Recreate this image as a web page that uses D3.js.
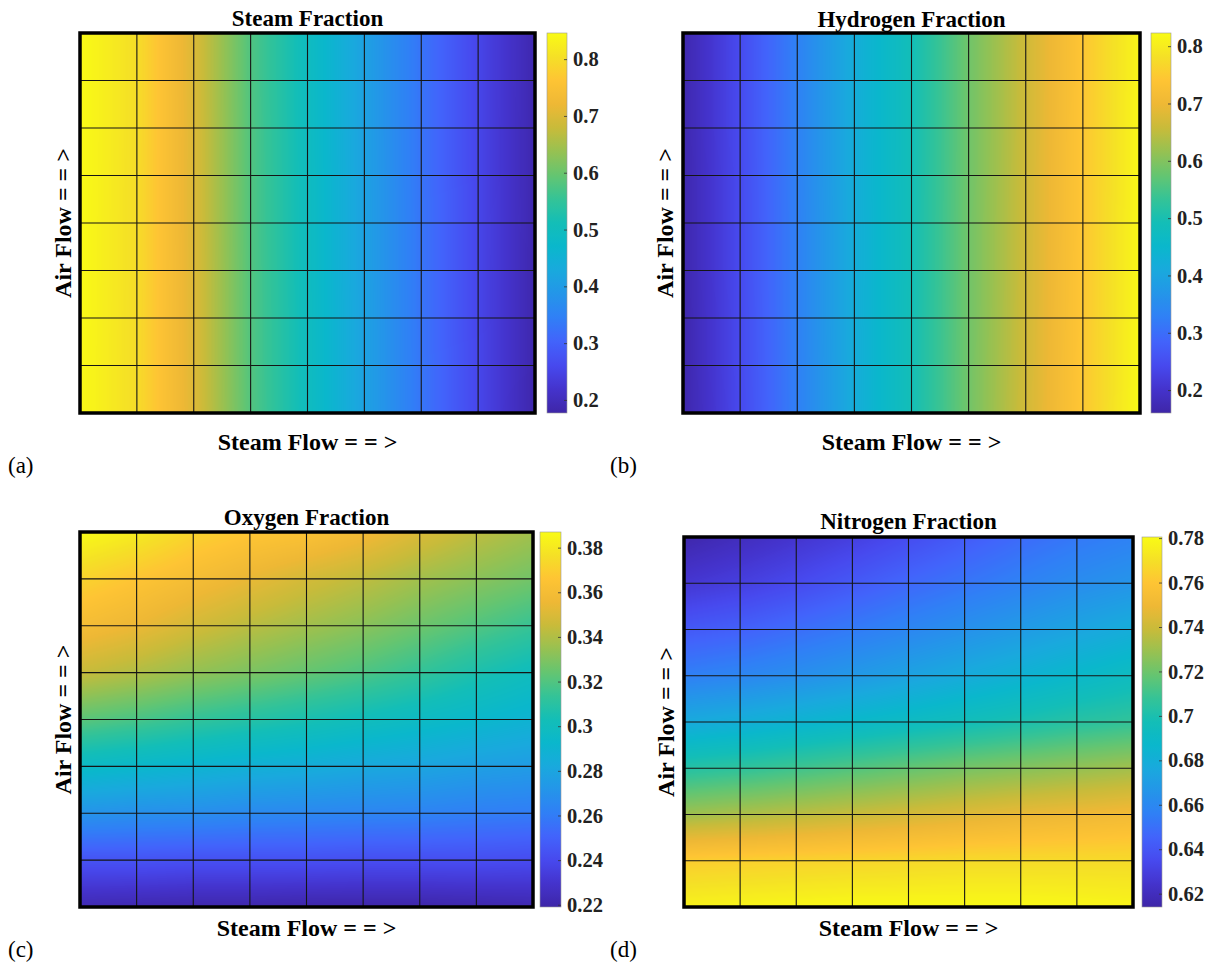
<!DOCTYPE html>
<html>
<head>
<meta charset="utf-8">
<script src="https://cdn.jsdelivr.net/npm/d3@7"></script>
<style>
  body { margin: 0; background: #ffffff; }
  svg { display: block; }
</style>
</head>
<body>
<svg id="chart" width="1211" height="965"></svg>
<script>
// ---------------- DATA (vertex values of 9x9 grid, rows listed top -> bottom, columns left -> right) ----------------
const steamFraction = [
  [0.846, 0.800, 0.700, 0.578, 0.495, 0.411, 0.328, 0.254, 0.184],
  [0.846, 0.800, 0.700, 0.578, 0.495, 0.411, 0.328, 0.254, 0.184],
  [0.846, 0.800, 0.701, 0.579, 0.495, 0.411, 0.328, 0.254, 0.183],
  [0.846, 0.799, 0.701, 0.579, 0.496, 0.412, 0.328, 0.254, 0.183],
  [0.845, 0.799, 0.701, 0.579, 0.496, 0.412, 0.329, 0.255, 0.183],
  [0.845, 0.799, 0.702, 0.580, 0.496, 0.412, 0.329, 0.255, 0.182],
  [0.845, 0.798, 0.702, 0.580, 0.497, 0.413, 0.329, 0.255, 0.182],
  [0.844, 0.798, 0.702, 0.580, 0.497, 0.413, 0.330, 0.256, 0.181],
  [0.844, 0.798, 0.703, 0.581, 0.497, 0.413, 0.330, 0.256, 0.180]
];
const hydrogenFraction = [
  [0.166, 0.246, 0.330, 0.420, 0.490, 0.584, 0.664, 0.743, 0.816],
  [0.166, 0.246, 0.330, 0.420, 0.490, 0.584, 0.664, 0.743, 0.816],
  [0.166, 0.246, 0.330, 0.420, 0.490, 0.584, 0.664, 0.744, 0.817],
  [0.165, 0.245, 0.330, 0.420, 0.491, 0.584, 0.665, 0.744, 0.817],
  [0.165, 0.245, 0.329, 0.419, 0.491, 0.585, 0.665, 0.744, 0.818],
  [0.165, 0.245, 0.329, 0.419, 0.491, 0.585, 0.665, 0.745, 0.818],
  [0.164, 0.244, 0.329, 0.419, 0.492, 0.585, 0.666, 0.745, 0.819],
  [0.164, 0.244, 0.328, 0.418, 0.492, 0.586, 0.666, 0.746, 0.820],
  [0.163, 0.243, 0.328, 0.418, 0.492, 0.586, 0.667, 0.746, 0.821]
];
const oxygenFraction = [
  [0.387, 0.381, 0.372, 0.367, 0.364, 0.358, 0.350, 0.343, 0.337],
  [0.372, 0.366, 0.360, 0.354, 0.348, 0.343, 0.337, 0.332, 0.327],
  [0.360, 0.355, 0.348, 0.342, 0.337, 0.332, 0.326, 0.320, 0.314],
  [0.345, 0.340, 0.334, 0.329, 0.324, 0.319, 0.313, 0.306, 0.300],
  [0.322, 0.318, 0.313, 0.309, 0.305, 0.301, 0.297, 0.293, 0.289],
  [0.296, 0.293, 0.290, 0.287, 0.285, 0.282, 0.280, 0.277, 0.275],
  [0.271, 0.269, 0.268, 0.266, 0.265, 0.264, 0.263, 0.261, 0.260],
  [0.244, 0.244, 0.243, 0.243, 0.243, 0.242, 0.242, 0.242, 0.241],
  [0.222, 0.221, 0.220, 0.220, 0.219, 0.219, 0.219, 0.220, 0.221]
];
const nitrogenFraction = [
  [0.615, 0.620, 0.625, 0.630, 0.636, 0.642, 0.648, 0.653, 0.657],
  [0.626, 0.630, 0.635, 0.641, 0.647, 0.652, 0.657, 0.662, 0.666],
  [0.641, 0.644, 0.649, 0.654, 0.659, 0.664, 0.669, 0.674, 0.679],
  [0.656, 0.659, 0.663, 0.668, 0.673, 0.678, 0.683, 0.688, 0.693],
  [0.677, 0.680, 0.684, 0.688, 0.692, 0.696, 0.700, 0.704, 0.707],
  [0.703, 0.706, 0.710, 0.714, 0.718, 0.722, 0.725, 0.728, 0.731],
  [0.730, 0.733, 0.736, 0.739, 0.742, 0.745, 0.748, 0.750, 0.752],
  [0.763, 0.764, 0.765, 0.766, 0.767, 0.768, 0.768, 0.768, 0.768],
  [0.777, 0.778, 0.779, 0.780, 0.780, 0.780, 0.780, 0.779, 0.778]
];

// colour limits of each colour bar
const steamRange = [0.177, 0.846];
const hydrogenRange = [0.160, 0.823];
const oxygenRange = [0.219, 0.387];
const nitrogenRange = [0.614, 0.7805];

// colour bar tick labels
const steamTicks = [0.2, 0.3, 0.4, 0.5, 0.6, 0.7, 0.8];
const hydrogenTicks = [0.2, 0.3, 0.4, 0.5, 0.6, 0.7, 0.8];
const oxygenTicks = [0.22, 0.24, 0.26, 0.28, 0.30, 0.32, 0.34, 0.36, 0.38];
const nitrogenTicks = [0.62, 0.64, 0.66, 0.68, 0.70, 0.72, 0.74, 0.76, 0.78];

const titles = ["Steam Fraction", "Hydrogen Fraction", "Oxygen Fraction", "Nitrogen Fraction"];
const panelLetters = ["(a)", "(b)", "(c)", "(d)"];
const xLabel = "Steam Flow = = >";
const yLabel = "Air Flow = = >";

// parula-like colour map
const parulaColors = [
  "#3e26a8", "#4433cc", "#4749ee", "#4263fb", "#307ff6", "#2495e9", "#19a9dd",
  "#0ab7cc", "#13beb7", "#34c397", "#64c571", "#96c152", "#c8bb3a", "#eeb835",
  "#fec434", "#f5e026", "#f9fb15"
];

// ---------------- LAYOUT ----------------
const FONT = "'Liberation Serif', 'Times New Roman', serif";
const layout = [
  { plot: [80, 535, 33, 413], cbar: [547, 567], titleY: 26, xlabelY: 450, ylabelX: 71, letter: [8, 473] },
  { plot: [683, 1140, 33, 413], cbar: [1151, 1171], titleY: 27, xlabelY: 450, ylabelX: 673, letter: [610, 473] },
  { plot: [80, 533, 532, 907], cbar: [540, 561], titleY: 525, xlabelY: 936, ylabelX: 71, letter: [8, 957] },
  { plot: [684, 1133, 537, 907], cbar: [1142, 1162], titleY: 529, xlabelY: 936, ylabelX: 674, letter: [610, 957] }
];
const datasets = [steamFraction, hydrogenFraction, oxygenFraction, nitrogenFraction];
const ranges = [steamRange, hydrogenRange, oxygenRange, nitrogenRange];
const tickSets = [steamTicks, hydrogenTicks, oxygenTicks, nitrogenTicks];

const svg = d3.select("#chart");
const defs = svg.append("defs");
const cmap = d3.piecewise(d3.interpolateRgb, parulaColors);

datasets.forEach((data, i) => {
  const L = layout[i];
  const [x0, x1, y0, y1] = L.plot;
  const nCols = data[0].length - 1, nRows = data.length - 1;
  const xs = d3.scaleLinear().domain([0, nCols]).range([x0, x1]);
  const ys = d3.scaleLinear().domain([0, nRows]).range([y0, y1]);
  const color = d3.scaleSequential(cmap).domain(ranges[i]).clamp(true);

  // colour lookup table
  const N = 512;
  const lut = d3.range(N).map(k => d3.rgb(color(ranges[i][0] + (ranges[i][1] - ranges[i][0]) * k / (N - 1))));

  // interpolated (shading interp) raster
  const W = Math.round(x1 - x0), H = Math.round(y1 - y0);
  const cv = document.createElement("canvas");
  cv.width = W; cv.height = H;
  const ctx = cv.getContext("2d");
  const img = ctx.createImageData(W, H);
  for (let py = 0; py < H; py++) {
    const gy = ys.invert(y0 + py + 0.5);
    const r = Math.max(0, Math.min(nRows - 1, Math.floor(gy)));
    const fy = gy - r;
    for (let px = 0; px < W; px++) {
      const gx = xs.invert(x0 + px + 0.5);
      const c = Math.max(0, Math.min(nCols - 1, Math.floor(gx)));
      const fx = gx - c;
      const v = (1 - fy) * ((1 - fx) * data[r][c] + fx * data[r][c + 1]) +
                fy * ((1 - fx) * data[r + 1][c] + fx * data[r + 1][c + 1]);
      let k = Math.round((v - ranges[i][0]) / (ranges[i][1] - ranges[i][0]) * (N - 1));
      k = Math.max(0, Math.min(N - 1, k));
      const col = lut[k];
      const o = (py * W + px) * 4;
      img.data[o] = col.r; img.data[o + 1] = col.g; img.data[o + 2] = col.b; img.data[o + 3] = 255;
    }
  }
  ctx.putImageData(img, 0, 0);

  const g = svg.append("g");
  g.append("image")
    .attr("href", cv.toDataURL())
    .attr("x", x0).attr("y", y0)
    .attr("width", x1 - x0).attr("height", y1 - y0)
    .attr("preserveAspectRatio", "none");

  // grid (facet) lines
  g.selectAll("line.v").data(d3.range(1, nCols)).join("line")
    .attr("x1", d => xs(d)).attr("x2", d => xs(d))
    .attr("y1", y0).attr("y2", y1)
    .attr("stroke", "#151515").attr("stroke-width", 1.1);
  g.selectAll("line.h").data(d3.range(1, nRows)).join("line")
    .attr("x1", x0).attr("x2", x1)
    .attr("y1", d => ys(d)).attr("y2", d => ys(d))
    .attr("stroke", "#151515").attr("stroke-width", 1.1);

  // thick box
  g.append("rect")
    .attr("x", x0).attr("y", y0).attr("width", x1 - x0).attr("height", y1 - y0)
    .attr("fill", "none").attr("stroke", "#000").attr("stroke-width", 3.5);

  // title
  g.append("text")
    .attr("x", (x0 + x1) / 2).attr("y", L.titleY)
    .attr("text-anchor", "middle")
    .attr("font-family", FONT).attr("font-weight", "bold").attr("font-size", 23)
    .text(titles[i]);

  // x label
  g.append("text")
    .attr("x", (x0 + x1) / 2).attr("y", L.xlabelY)
    .attr("text-anchor", "middle")
    .attr("font-family", FONT).attr("font-weight", "bold").attr("font-size", 24)
    .text(xLabel);

  // y label
  g.append("text")
    .attr("transform", `translate(${L.ylabelX},${(y0 + y1) / 2}) rotate(-90)`)
    .attr("text-anchor", "middle")
    .attr("font-family", FONT).attr("font-weight", "bold").attr("font-size", 24)
    .text(yLabel);

  // panel letter
  g.append("text")
    .attr("x", L.letter[0]).attr("y", L.letter[1])
    .attr("font-family", FONT).attr("font-size", 23)
    .text(panelLetters[i]);

  // colour bar
  const [cx0, cx1] = L.cbar;
  const cs = d3.scaleLinear().domain(ranges[i]).range([y1, y0]);
  const gid = "cbgrad" + i;
  const grad = defs.append("linearGradient").attr("id", gid)
    .attr("x1", 0).attr("x2", 0).attr("y1", 1).attr("y2", 0);
  grad.selectAll("stop").data(d3.range(0, 1.0001, 1 / 64)).join("stop")
    .attr("offset", d => d)
    .attr("stop-color", d => color(ranges[i][0] + d * (ranges[i][1] - ranges[i][0])));
  g.append("rect")
    .attr("x", cx0).attr("y", y0).attr("width", cx1 - cx0).attr("height", y1 - y0)
    .attr("fill", `url(#${gid})`)
    .attr("stroke", "#9a9a9a").attr("stroke-width", 0.6);

  // inner tick marks
  const tickAxis = g.append("g").attr("transform", `translate(${cx1},0)`)
    .call(d3.axisLeft(cs).tickValues(tickSets[i]).tickSize(3).tickFormat(""));
  tickAxis.select(".domain").remove();
  tickAxis.selectAll("line").attr("stroke", "#333").attr("stroke-width", 0.8);

  // tick labels
  const labAxis = g.append("g").attr("transform", `translate(${cx1},0)`)
    .call(d3.axisRight(cs).tickValues(tickSets[i]).tickSize(0).tickPadding(6)
      .tickFormat(d => String(+d.toFixed(2))));
  labAxis.select(".domain").remove();
  labAxis.selectAll("text")
    .attr("font-family", FONT).attr("font-weight", "bold").attr("font-size", 20.5)
    .attr("fill", "#222");
});
</script>
</body>
</html>
